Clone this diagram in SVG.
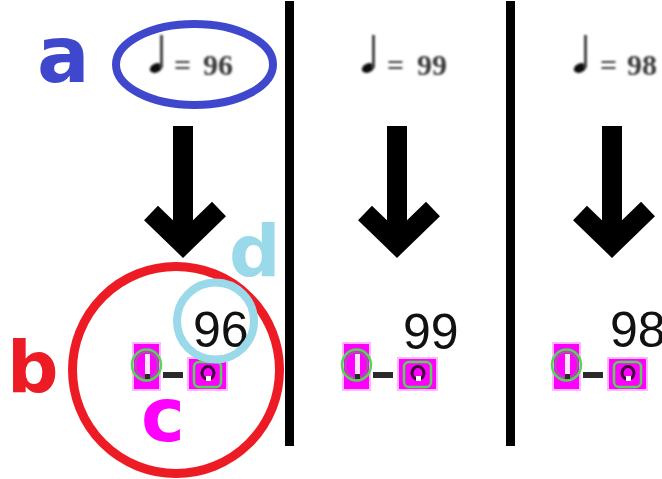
<svg xmlns="http://www.w3.org/2000/svg" width="662" height="479" viewBox="0 0 662 479">
  <defs>
    <style>
      .tempo { font-family: "Liberation Serif", "Times New Roman", serif; font-weight: bold; font-size: 30px; fill: #3a3a3a; }
      .value { font-family: "Liberation Sans", Arial, sans-serif; font-size: 50px; fill: #111; }
      .tag { font-family: "DejaVu Sans", Verdana, sans-serif; font-weight: bold; }
      .arrow { fill: none; stroke: #000; stroke-width: 20; stroke-linejoin: miter; stroke-linecap: butt; }
      .divider { fill: #000; }
      .pink-edge { fill: #ffb8ff; }
      .pink { fill: #ff00ff; }
      .ring { fill: none; stroke: #55d655; stroke-width: 2.5; }
      .ring-in { fill: none; stroke: #8c6a8c; stroke-width: 1.5; }
      .ink { fill: #2a2a2a; }
    </style>
    <filter id="soft" x="-20%" y="-20%" width="140%" height="140%">
      <feGaussianBlur stdDeviation="0.8"/>
    </filter>
    <filter id="softer" x="-20%" y="-20%" width="140%" height="140%">
      <feGaussianBlur stdDeviation="0.5"/>
    </filter>
    <!-- quarter note symbol, drawn at the first column's position -->
    <g id="quarter-note">
      <ellipse cx="156" cy="68" rx="6.5" ry="4.5" transform="rotate(-25 156 68)" fill="#111"/>
      <rect x="160" y="35" width="3" height="33" fill="#444"/>
    </g>
    <!-- small rendered icon pair: note box, dash, value box -->
    <g id="icon-pair">
      <rect class="pink-edge" x="132" y="342" width="29" height="49"/>
      <rect class="pink" x="134" y="344" width="25" height="45"/>
      <ellipse class="ring-in" cx="146.5" cy="365" rx="11" ry="13"/>
      <ellipse class="ring" cx="146.5" cy="365" rx="14.5" ry="15.5"/>
      <rect x="145" y="354" width="5" height="20" fill="#ffe6ff"/>
      <rect class="ink" x="145" y="374" width="5" height="5"/>
      <rect class="ink" x="163" y="372" width="20" height="6"/>
      <rect class="pink-edge" x="187" y="357" width="41" height="34"/>
      <rect class="pink" x="189" y="359" width="37" height="30"/>
      <rect class="ring" x="194" y="362" width="27" height="25" rx="5"/>
      <ellipse cx="208" cy="373" rx="6" ry="6.5" fill="none" stroke="#3a0035" stroke-width="3"/>
      <rect x="206" y="376" width="5" height="5" fill="#fff"/>
    </g>
  </defs>

  <rect width="662" height="479" fill="#fff"/>

  <!-- column dividers -->
  <g id="dividers">
    <rect class="divider" x="285" y="1" width="9" height="445"/>
    <rect class="divider" x="506" y="1" width="9" height="445"/>
  </g>

  <!-- tempo markings -->
  <g id="tempo-96" filter="url(#soft)">
    <use href="#quarter-note"/>
    <text class="tempo" x="174" y="75">=<tspan x="203">96</tspan></text>
  </g>
  <g id="tempo-99" filter="url(#soft)">
    <use href="#quarter-note" transform="translate(212 0)"/>
    <text class="tempo" x="387" y="75">=<tspan x="417">99</tspan></text>
  </g>
  <g id="tempo-98" filter="url(#soft)">
    <use href="#quarter-note" transform="translate(424 0)"/>
    <text class="tempo" x="600" y="75">=<tspan x="627">98</tspan></text>
  </g>

  <!-- recognised values -->
  <g id="value-96"><text class="value" x="193" y="347">96</text></g>
  <g id="value-99"><text class="value" x="403" y="349">99</text></g>
  <g id="value-98"><text class="value" x="610" y="347">98</text></g>

  <!-- detected symbol boxes -->
  <g id="icons-1" filter="url(#softer)"><use href="#icon-pair"/></g>
  <g id="icons-2" filter="url(#softer)"><use href="#icon-pair" transform="translate(210 0)"/></g>
  <g id="icons-3" filter="url(#softer)"><use href="#icon-pair" transform="translate(420 0)"/></g>

  <!-- arrows from marking to result -->
  <g id="connectors">
    <g id="arrow-1">
      <line class="arrow" x1="183" y1="126" x2="183" y2="244"/>
      <polyline class="arrow" points="151,213 183,244 219,209"/>
    </g>
    <g id="arrow-2">
      <line class="arrow" x1="397" y1="126" x2="397" y2="244"/>
      <polyline class="arrow" points="365,213 397,244 433,209"/>
    </g>
    <g id="arrow-3">
      <line class="arrow" x1="612" y1="126" x2="612" y2="244"/>
      <polyline class="arrow" points="580,213 612,244 648,209"/>
    </g>
  </g>

  <!-- annotations -->
  <g id="mark-a">
    <ellipse cx="194.5" cy="64.5" rx="78.5" ry="40.5" fill="none" stroke="#3f48cc" stroke-width="8"/>
    <text class="tag" x="37" y="82" font-size="78" fill="#3f48cc">a</text>
  </g>
  <g id="mark-b">
    <circle cx="176" cy="370" r="103.5" fill="none" stroke="#ed1c24" stroke-width="9"/>
    <text class="tag" x="7" y="392" font-size="72" fill="#ed1c24">b</text>
  </g>
  <g id="mark-c">
    <text class="tag" x="141" y="441" font-size="74" fill="#ff00ff">c</text>
  </g>
  <g id="mark-d">
    <circle cx="215.5" cy="321" r="38.5" fill="none" stroke="#99d9ea" stroke-width="8"/>
    <text class="tag" x="229" y="276" font-size="72" fill="#99d9ea">d</text>
  </g>
</svg>
